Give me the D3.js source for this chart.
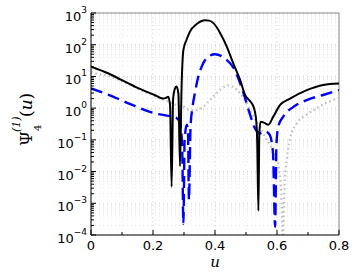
<!DOCTYPE html>
<html><head><meta charset="utf-8">
<script src="https://cdn.jsdelivr.net/npm/d3@7"></script>
<style>body{margin:0;background:#fff}svg{display:block}</style>
</head><body>
<svg id="c" width="354" height="273"></svg>
<script>
// u positions and values for each series
const blackU = [0,.055,.098,.152,.205,.232,.242,.249,.255,.260,.265,.271,.276,.282,.287,.292,.298,.308,.319,.341,.355,.368,.381,.395,.416,.438,.459,.481,.497,.513,.524,.532,.536,.540,.543,.547,.558,.572,.588,.610,.642,.696,.749,.800];
const blackV = [20.4,12.6,7.8,4.3,2.6,2.0,2.1,2.3,1.26,0.0033,2.0,4.2,4.8,2.8,0.0148,4.0,68,141,257,447,550,590,575,480,240,87,25.7,7.8,2.6,1.66,1.12,0.5,0.1,0.00058,0.16,0.37,0.35,0.30,0.54,1.26,2.0,3.7,5.4,6.0];
const blueU = [0,.076,.141,.205,.254,.274,.287,.294,.298,.302,.309,.313,.316,.321,.327,.335,.346,.357,.373,.400,.432,.465,.491,.513,.529,.545,.561,.577,.587,.594,.598,.604,.620,.653,.696,.749,.800];
const blueV = [4.2,2.2,1.17,0.69,0.56,0.50,0.35,0.063,0.000224,0.1,0.30,0.16,0.00126,0.25,1.0,2.95,9.8,20.4,38,50,37,15,3.2,0.63,0.23,0.16,0.19,0.14,0.04,0.000182,0.063,0.26,0.54,1.1,1.8,2.6,3.7];
const grayU = [0,.03,.055,.098,.152,.205,.232,.26,.28,.298,.319,.341,.362,.384,.405,.432,.448,.459,.481,.502,.524,.545,.561,.58,.595,.606,.613,.619,.624,.632,.642,.663,.696,.728,.760,.800];
const grayV = [13.5,11.5,10.5,7.1,4.0,2.4,1.86,1.45,1.2,1.1,0.87,0.87,1.1,1.8,2.95,4.8,5.2,4.6,2.95,1.4,0.54,0.26,0.126,0.063,0.032,0.0126,0.0032,0.000063,0.0032,0.025,0.11,0.32,0.63,1.0,1.48,2.1];
const xMajor = [0,0.2,0.4,0.6,0.8];
const xMinor = [0.1,0.3,0.5,0.7];
const xLabels = ["0","0.2","0.4","0.6","0.8"];
const yExp = [3,2,1,0,-1,-2,-3,-4];

const svg = d3.select("#c");
const L=91,R=339,T=13,B=235;
const x = d3.scaleLinear().domain([0,0.8]).range([L,R]);
const y = d3.scaleLog().domain([1e-4,1e3]).range([B,T]);

// minor y values
const yMinor=[];
for(let e=-4;e<3;e++) for(let k=2;k<=9;k++) yMinor.push(k*Math.pow(10,e));

// grid
const grid = svg.append("g");
grid.selectAll(".gym").data(yMinor).join("line")
  .attr("x1",L).attr("x2",R).attr("y1",d=>y(d)).attr("y2",d=>y(d))
  .attr("stroke","#e6e6e6").attr("stroke-width",1).attr("stroke-dasharray","1,3");
grid.selectAll(".gy").data(yExp.map(e=>Math.pow(10,e))).join("line")
  .attr("x1",L).attr("x2",R).attr("y1",d=>y(d)).attr("y2",d=>y(d))
  .attr("stroke","#cfcfcf").attr("stroke-width",1).attr("stroke-dasharray","1,3");
grid.selectAll(".gx").data(xMajor.concat(xMinor)).join("line")
  .attr("x1",d=>x(d)).attr("x2",d=>x(d)).attr("y1",T).attr("y2",B)
  .attr("stroke",(d)=>xMajor.includes(d)?"#cfcfcf":"#e6e6e6").attr("stroke-width",1).attr("stroke-dasharray","1,3");

// frame top/right
svg.append("line").attr("x1",L).attr("x2",R).attr("y1",T).attr("y2",T).attr("stroke","#888");
svg.append("line").attr("x1",R).attr("x2",R).attr("y1",T).attr("y2",B).attr("stroke","#888");

// clip
svg.append("clipPath").attr("id","cp").append("rect").attr("x",L).attr("y",T).attr("width",R-L).attr("height",B-T);
const line = d3.line().x(d=>x(d[0])).y(d=>y(d[1])).curve(d3.curveMonotoneX);
const plot = svg.append("g").attr("clip-path","url(#cp)");
plot.append("path").attr("d",line(d3.zip(grayU,grayV))).attr("fill","none")
  .attr("stroke","#bdbdbd").attr("stroke-width",2.2).attr("stroke-dasharray","1.5,3");
plot.append("path").attr("d",line(d3.zip(blueU,blueV))).attr("fill","none")
  .attr("stroke","#0000ff").attr("stroke-width",2.4).attr("stroke-dasharray","12,6");
plot.append("path").attr("d",line(d3.zip(blackU,blackV))).attr("fill","none")
  .attr("stroke","#000").attr("stroke-width",2);

// axes
const ax = svg.append("g");
ax.append("line").attr("x1",L).attr("x2",L).attr("y1",T).attr("y2",B).attr("stroke","#000");
ax.append("line").attr("x1",L).attr("x2",R).attr("y1",B).attr("y2",B).attr("stroke","#000");
ax.selectAll(".ty").data(yExp).join("line")
  .attr("x1",L).attr("x2",L+5).attr("y1",d=>y(Math.pow(10,d))).attr("y2",d=>y(Math.pow(10,d))).attr("stroke","#000");
ax.selectAll(".tym").data(yMinor).join("line")
  .attr("x1",L).attr("x2",L+3).attr("y1",d=>y(d)).attr("y2",d=>y(d)).attr("stroke","#000");
ax.selectAll(".tx").data(xMajor).join("line")
  .attr("x1",d=>x(d)).attr("x2",d=>x(d)).attr("y1",B).attr("y2",B-5).attr("stroke","#000");
ax.selectAll(".txm").data(xMinor).join("line")
  .attr("x1",d=>x(d)).attr("x2",d=>x(d)).attr("y1",B).attr("y2",B-3).attr("stroke","#000");

const font="DejaVu Sans";
const yl = ax.selectAll(".yl").data(yExp).join("text")
  .attr("x",L-4).attr("y",d=>y(Math.pow(10,d))+8).attr("text-anchor","end")
  .attr("font-family",font).attr("font-size",13).attr("fill","#000");
yl.append("tspan").text("10");
yl.append("tspan").attr("dy",-8).attr("font-size",9).text(d=>d<0?"\u2212"+(-d):String(d));

ax.selectAll(".xl").data(xMajor).join("text")
  .attr("x",d=>x(d)).attr("y",B+15).attr("text-anchor","middle")
  .attr("font-family",font).attr("font-size",13).attr("fill","#000")
  .text((d,i)=>xLabels[i]);

svg.append("text").attr("x",215).attr("y",267).attr("text-anchor","middle")
  .attr("font-family","DejaVu Serif").attr("font-style","italic").attr("font-size",15).text("u");

// y label
const yg = svg.append("g").attr("transform","translate(32,122) rotate(-90)")
  .attr("font-family","DejaVu Serif").attr("fill","#000");
yg.append("text").attr("x",-24).attr("y",0).attr("font-size",17).text("\u03A8");
yg.append("text").attr("x",-10).attr("y",-12).attr("font-size",11).attr("font-style","italic").text("(1)");
yg.append("text").attr("x",-9).attr("y",9).attr("font-size",10).text("4");
yg.append("text").attr("x",5).attr("y",0).attr("font-size",17).html('(<tspan font-style="italic">u</tspan>)');
</script>
</body></html>
